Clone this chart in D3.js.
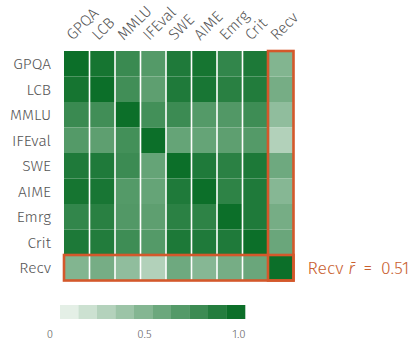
<!DOCTYPE html>
<html>
<head>
<meta charset="utf-8">
<script src="https://cdn.jsdelivr.net/npm/d3@7/dist/d3.min.js"></script>
<style>
  html, body { margin: 0; padding: 0; background: #ffffff; }
  svg { display: block; }
  text { font-family: "Fira Sans", "Open Sans", sans-serif; font-weight: 300; }
</style>
</head>
<body>
<svg id="chart" width="411" height="340"></svg>
<script>
// Benchmarks compared in the correlation matrix
const benchmarks = ["GPQA", "LCB", "MMLU", "IFEval", "SWE", "AIME", "Emrg", "Crit", "Recv"];

// Pairwise correlation, one row per benchmark (symmetric)
const rowGPQA   = [1.00, 0.96, 0.81, 0.70, 0.92, 0.96, 0.84, 0.93, 0.51];
const rowLCB    = [0.96, 1.00, 0.78, 0.66, 0.92, 0.95, 0.88, 0.91, 0.56];
const rowMMLU   = [0.81, 0.78, 1.00, 0.77, 0.80, 0.70, 0.71, 0.79, 0.45];
const rowIFEval = [0.70, 0.66, 0.77, 1.00, 0.63, 0.63, 0.66, 0.70, 0.31];
const rowSWE    = [0.92, 0.92, 0.80, 0.63, 1.00, 0.92, 0.87, 0.93, 0.59];
const rowAIME   = [0.96, 0.95, 0.70, 0.63, 0.92, 1.00, 0.86, 0.92, 0.49];
const rowEmrg   = [0.84, 0.88, 0.71, 0.66, 0.87, 0.86, 1.00, 0.92, 0.56];
const rowCrit   = [0.93, 0.91, 0.79, 0.70, 0.93, 0.92, 0.92, 1.00, 0.61];
const rowRecv   = [0.51, 0.56, 0.45, 0.31, 0.59, 0.49, 0.56, 0.61, 1.00];
const matrix = [rowGPQA, rowLCB, rowMMLU, rowIFEval, rowSWE, rowAIME, rowEmrg, rowCrit, rowRecv];

// Highlighted benchmark and colour-bar ticks
const highlight = "Recv";
const legendSteps = [0.1, 0.2, 0.3, 0.4, 0.5, 0.6, 0.7, 0.8, 0.9, 1.0];
const legendTicks = [0, 0.5, 1.0];
const legendTickLabels = ["0", "0.5", "1.0"];

const svg = d3.select("#chart");
const gridLeft = 64, gridTop = 51, cell = 25.5;
const n = benchmarks.length;

const x = d3.scaleBand().domain(benchmarks).range([gridLeft, gridLeft + cell * n]).padding(0);
const y = d3.scaleBand().domain(benchmarks).range([gridTop, gridTop + cell * n]).padding(0);
const color = d3.scaleLinear().domain([0, 1]).range(["#fcfdfb", "#0c6f29"]).interpolate(d3.interpolateRgb);

const cells = [];
matrix.forEach((row, i) => row.forEach((v, j) => cells.push({ r: benchmarks[i], c: benchmarks[j], v })));

// Heatmap cells
svg.append("g")
  .selectAll("rect")
  .data(cells)
  .join("rect")
  .attr("x", d => x(d.c))
  .attr("y", d => y(d.r))
  .attr("width", x.bandwidth())
  .attr("height", y.bandwidth())
  .attr("fill", d => color(d.v));

// White column separators
svg.append("g")
  .selectAll("line")
  .data(benchmarks.slice(1))
  .join("line")
  .attr("x1", d => x(d)).attr("x2", d => x(d))
  .attr("y1", gridTop).attr("y2", gridTop + cell * n)
  .attr("stroke", "#ffffff")
  .attr("stroke-width", 1.6);

// Row labels
svg.append("g")
  .selectAll("text")
  .data(benchmarks)
  .join("text")
  .attr("x", gridLeft - 13)
  .attr("y", d => y(d) + y.bandwidth() / 2)
  .attr("dy", "0.35em")
  .attr("text-anchor", "end")
  .attr("font-size", 15.5)
  .attr("fill", "#555555")
  .text(d => d);

// Column labels, slanted
svg.append("g")
  .selectAll("text")
  .data(benchmarks)
  .join("text")
  .attr("transform", d => `translate(${x(d) + x.bandwidth() / 2 - 4},${gridTop - 10}) rotate(-45)`)
  .attr("text-anchor", "start")
  .attr("font-size", 15.5)
  .attr("fill", "#555555")
  .text(d => d);

// Highlight boxes on the Recv row and column
const hi = benchmarks.indexOf(highlight);
const accent = "#d4582b";
svg.append("rect")
  .attr("x", x(highlight)).attr("y", gridTop)
  .attr("width", x.bandwidth()).attr("height", cell * n)
  .attr("fill", "none").attr("stroke", accent).attr("stroke-width", 2.6);
svg.append("rect")
  .attr("x", gridLeft).attr("y", y(highlight))
  .attr("width", cell * n).attr("height", y.bandwidth())
  .attr("fill", "none").attr("stroke", accent).attr("stroke-width", 2.6);

// Mean correlation of Recv with the other benchmarks
const others = matrix[hi].filter((v, j) => j !== hi);
const meanR = d3.mean(others);
const note = svg.append("text")
  .attr("x", gridLeft + cell * n + 14)
  .attr("y", y(highlight) + y.bandwidth() / 2)
  .attr("dy", "0.35em")
  .attr("font-size", 17.5)
  .attr("font-weight", 400)
  .attr("fill", "#c9602f");
note.append("tspan").text(highlight + " ");
note.append("tspan").attr("font-style", "italic").text("r\u0304");
note.append("tspan").text("\u2002=\u2002" + meanR.toFixed(2));

// Colour bar
const legendX = d3.scaleBand().domain(legendSteps).range([60, 245]).padding(0);
svg.append("g")
  .selectAll("rect")
  .data(legendSteps)
  .join("rect")
  .attr("x", d => legendX(d))
  .attr("y", 305)
  .attr("width", legendX.bandwidth() + 0.3)
  .attr("height", 14)
  .attr("fill", d => color(d));

const legendAxis = d3.scaleLinear().domain([0, 1]).range([50, 239]);
svg.append("g")
  .selectAll("text")
  .data(legendTicks)
  .join("text")
  .attr("x", d => legendAxis(d))
  .attr("y", 338)
  .attr("text-anchor", "middle")
  .attr("font-size", 11.5)
  .attr("fill", "#666666")
  .text((d, i) => legendTickLabels[i]);
</script>
</body>
</html>
